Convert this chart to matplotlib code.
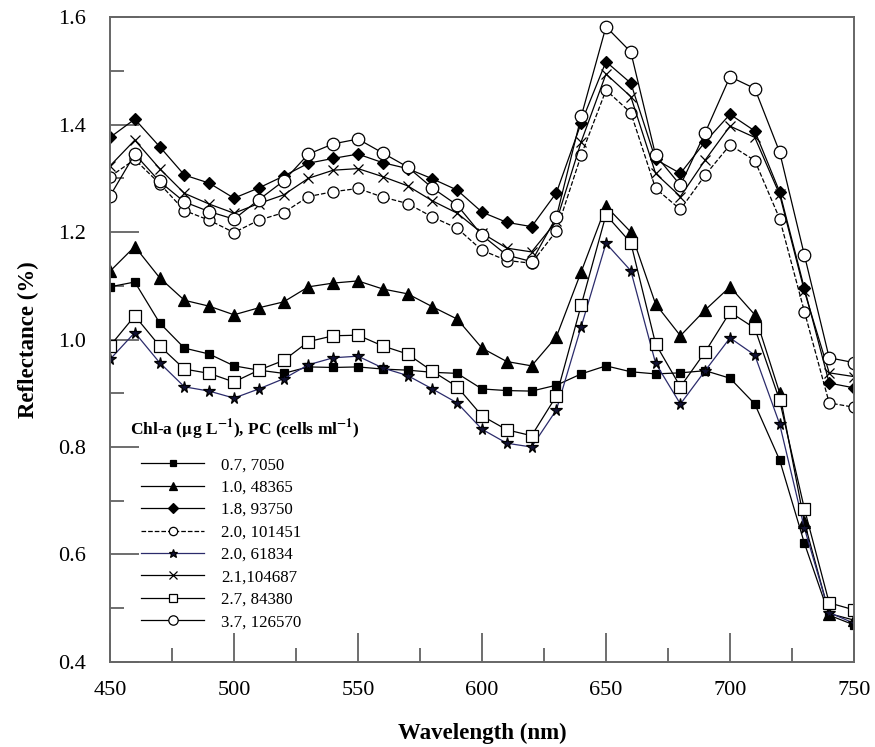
import matplotlib
matplotlib.use("Agg")
import matplotlib.pyplot as plt
from matplotlib.ticker import MultipleLocator

# wavelengths, one point every 10 nm
wavelength = list(range(450, 760, 10))

# reflectance (%)
chl07 = [1.098, 1.107, 1.031, 0.984, 0.973, 0.951, 0.943, 0.937, 0.949, 0.948, 0.949,
         0.945, 0.943, 0.939, 0.937, 0.908, 0.905, 0.904, 0.915, 0.936, 0.951, 0.940,
         0.936, 0.938, 0.942, 0.928, 0.880, 0.776, 0.621, 0.487, 0.469]
chl10 = [1.127, 1.173, 1.115, 1.073, 1.062, 1.046, 1.059, 1.070, 1.098, 1.105, 1.109,
         1.094, 1.085, 1.061, 1.038, 0.984, 0.959, 0.951, 1.005, 1.126, 1.248, 1.200,
         1.066, 1.007, 1.055, 1.098, 1.046, 0.901, 0.660, 0.490, 0.478]
chl18 = [1.376, 1.410, 1.359, 1.306, 1.291, 1.263, 1.282, 1.304, 1.328, 1.337, 1.345,
         1.329, 1.318, 1.299, 1.278, 1.237, 1.218, 1.210, 1.273, 1.403, 1.517, 1.477,
         1.335, 1.309, 1.368, 1.419, 1.388, 1.275, 1.095, 0.919, 0.910]
chl20a = [1.303, 1.335, 1.290, 1.240, 1.222, 1.199, 1.222, 1.236, 1.266, 1.275, 1.281,
          1.265, 1.253, 1.228, 1.207, 1.166, 1.147, 1.142, 1.202, 1.343, 1.464, 1.422,
          1.281, 1.242, 1.306, 1.362, 1.333, 1.225, 1.052, 0.882, 0.874]
chl20b = [0.963, 1.013, 0.957, 0.912, 0.904, 0.891, 0.908, 0.927, 0.953, 0.966, 0.969,
          0.947, 0.933, 0.908, 0.882, 0.833, 0.807, 0.800, 0.869, 1.024, 1.179, 1.128,
          0.956, 0.880, 0.942, 1.003, 0.971, 0.843, 0.649, 0.492, 0.472]
chl21 = [1.323, 1.371, 1.318, 1.272, 1.252, 1.235, 1.253, 1.269, 1.300, 1.315, 1.318,
         1.303, 1.286, 1.258, 1.235, 1.198, 1.170, 1.163, 1.220, 1.368, 1.494, 1.452,
         1.309, 1.266, 1.334, 1.397, 1.376, 1.270, 1.090, 0.938, 0.931]
chl27 = [0.988, 1.044, 0.988, 0.945, 0.937, 0.921, 0.943, 0.961, 0.996, 1.007, 1.008,
         0.988, 0.973, 0.941, 0.912, 0.858, 0.832, 0.821, 0.895, 1.064, 1.232, 1.180,
         0.992, 0.912, 0.977, 1.051, 1.021, 0.887, 0.685, 0.510, 0.497]
chl37 = [1.267, 1.345, 1.294, 1.256, 1.238, 1.224, 1.260, 1.295, 1.345, 1.364, 1.373,
         1.347, 1.321, 1.282, 1.250, 1.194, 1.157, 1.145, 1.228, 1.415, 1.582, 1.535,
         1.343, 1.287, 1.385, 1.489, 1.467, 1.349, 1.157, 0.966, 0.957]

labels = ["0.7, 7050", "1.0, 48365", "1.8, 93750", "2.0, 101451",
          "2.0, 61834", "2.1,104687", "2.7, 84380", "3.7, 126570"]

plt.rcParams['font.family'] = ['Liberation Serif', 'DejaVu Serif']
plt.rcParams['mathtext.fontset'] = 'stix'

fig = plt.figure(figsize=(8.75, 7.47), dpi=100)
ax = fig.add_axes([0.1257, 0.1138, 0.8503, 0.8634])

# (values, marker, size, face, linestyle, colour)
styles = [
    (chl07, 's', 6, 'black', '-', 'black'),
    (chl10, '^', 8, 'black', '-', 'black'),
    (chl18, 'D', 6.5, 'black', '-', 'black'),
    (chl20a, 'o', 8, 'white', '--', 'black'),
    (chl20b, '*', 8.5, '#111133', '-', '#2b2b6b'),
    (chl21, 'x', 7, 'black', '-', 'black'),
    (chl27, 's', 8.5, 'white', '-', 'black'),
    (chl37, 'o', 9, 'white', '-', 'black'),
]

for (vals, mk, ms, face, ls, col), lab in zip(styles, labels):
    ax.plot(wavelength, vals, linestyle=ls, color=col, linewidth=0.9,
            marker=mk, markersize=ms, markerfacecolor=face,
            markeredgecolor='black', markeredgewidth=0.9, label=lab)

ax.set_xlim(450, 750)
ax.set_ylim(0.4, 1.6)
ax.xaxis.set_major_locator(MultipleLocator(50))
ax.xaxis.set_minor_locator(MultipleLocator(25))
ax.yaxis.set_major_locator(MultipleLocator(0.2))
ax.yaxis.set_minor_locator(MultipleLocator(0.1))
ax.tick_params(which='major', direction='in', length=21, width=1.2, color='#555555',
               labelsize=16)
ax.tick_params(which='minor', direction='in', length=10, width=1.2, color='#555555')
ax.tick_params(axis='x', pad=14)
ax.tick_params(axis='y', pad=17)
for s in ax.spines.values():
    s.set_color('#666666')
    s.set_linewidth(1.4)

ax.set_xlabel('Wavelength (nm)', fontsize=16.5, fontweight='bold', labelpad=16)
ax.set_ylabel('Reflectance (%)', fontsize=16.5, fontweight='bold', labelpad=14)

ax.text(0.027, 0.36, r'Chl-a ($\mathbf{\mu}$g L$^{\mathbf{-1}}$), PC (cells ml$^{\mathbf{-1}}$)',
        transform=ax.transAxes, fontsize=12.5, fontweight='bold', va='center')
leg = ax.legend(loc='upper left', bbox_to_anchor=(0.033, 0.328), frameon=False,
                fontsize=12.2, handlelength=3.7, handletextpad=1.0,
                labelspacing=0.38, markerscale=0.75, borderaxespad=0)

fig.savefig('out.png', dpi=100)
